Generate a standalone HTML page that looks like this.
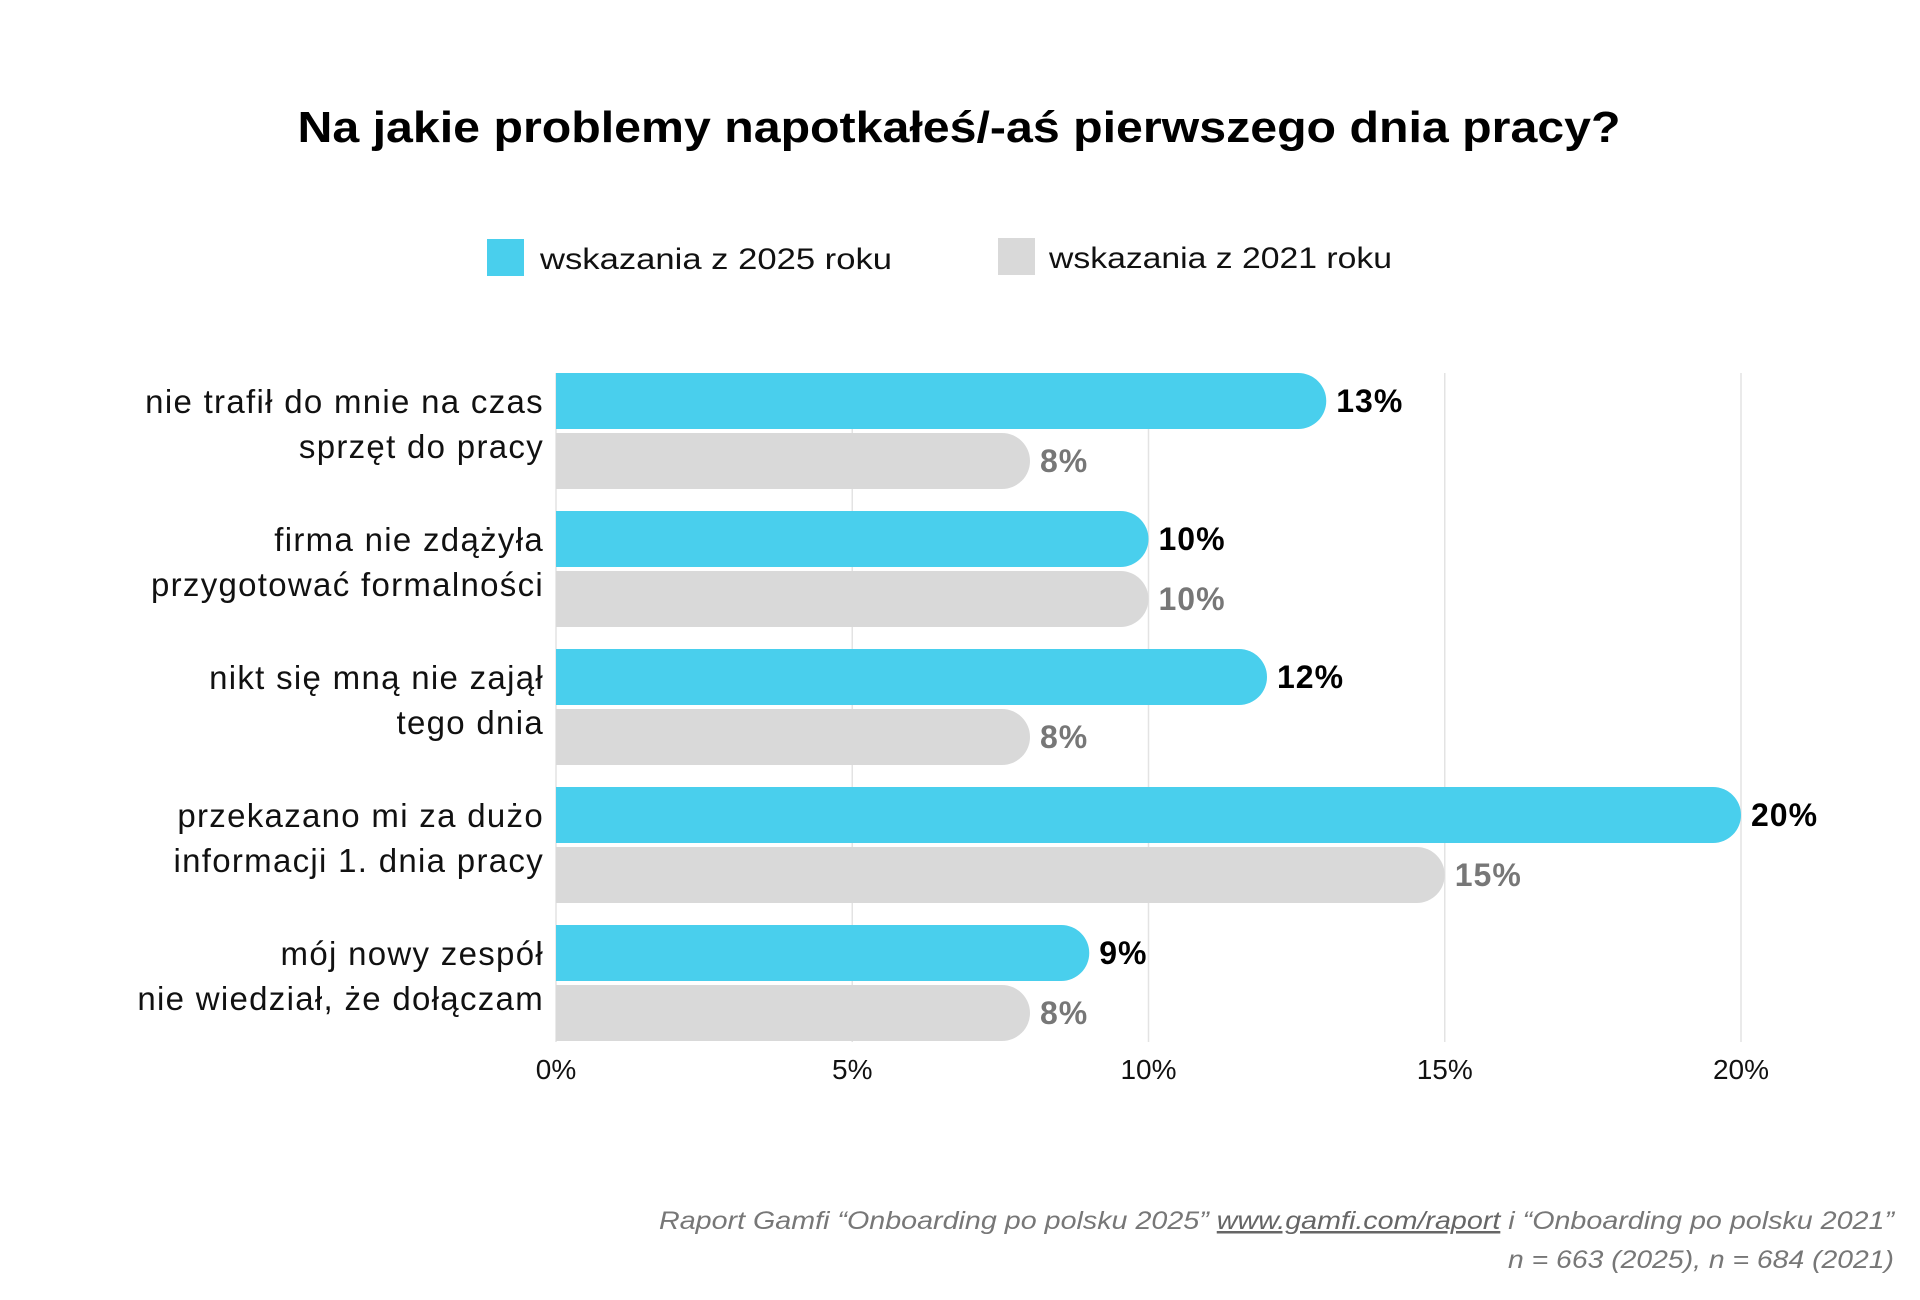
<!DOCTYPE html>
<html><head><meta charset="utf-8"><style>
html,body{margin:0;padding:0;background:#fff}
svg{display:block;font-family:"Liberation Sans",sans-serif}
</style></head><body>
<svg id="chart" width="1920" height="1300" viewBox="0 0 1920 1300">
<text x="959" y="142" text-anchor="middle" font-size="44" font-weight="bold" fill="#000" textLength="1323" lengthAdjust="spacingAndGlyphs">Na jakie problemy napotkałeś/-aś pierwszego dnia pracy?</text>
<g>
<rect x="487" y="239" width="37" height="37" fill="#49cfed"/>
<text x="540" y="269" font-size="30" fill="#111" textLength="352" lengthAdjust="spacingAndGlyphs">wskazania z 2025 roku</text>
<rect x="998" y="238" width="37" height="37" fill="#d9d9d9"/>
<text x="1049" y="268" font-size="30" fill="#111" textLength="343" lengthAdjust="spacingAndGlyphs">wskazania z 2021 roku</text>
</g>
<g id="grid"></g><g id="bars"></g><g id="labels"></g>
<g font-style="italic" font-size="25" fill="#777">
<text x="1894" y="1229" text-anchor="end" textLength="1235" lengthAdjust="spacingAndGlyphs">Raport Gamfi “Onboarding po polsku 2025” <tspan text-decoration="underline" fill="#666">www.gamfi.com/raport</tspan> i “Onboarding po polsku 2021”</text>
<text x="1894" y="1268" text-anchor="end" textLength="386" lengthAdjust="spacingAndGlyphs">n = 663 (2025), n = 684 (2021)</text>
</g>
</svg>
<script>
const categories=[["nie trafił do mnie na czas","sprzęt do pracy"],["firma nie zdążyła","przygotować formalności"],["nikt się mną nie zajął","tego dnia"],["przekazano mi za dużo","informacji 1. dnia pracy"],["mój nowy zespół","nie wiedział, że dołączam"]];
const values2025=[13,10,12,20,9];
const values2021=[8,10,8,15,8];
const ticks=[0,5,10,15,20];
const NS="http://www.w3.org/2000/svg";
function el(t,a,p){const e=document.createElementNS(NS,t);for(const k in a)e.setAttribute(k,a[k]);p.appendChild(e);return e;}
const X0=556,X20=1741;
function xs(v){return X0+(X20-X0)*v/20;}
function gy(i){return 373+i*138;}
const BH=56;
const grid=document.getElementById('grid'),bars=document.getElementById('bars'),labels=document.getElementById('labels');
ticks.forEach(t=>{
 const l=el('line',{x1:xs(t),x2:xs(t),y1:373,y2:1042,stroke:'#e3e3e3','stroke-width':1.5},grid);
 
 
 const tx=el('text',{x:xs(t),y:1079,'text-anchor':'middle','font-size':28,fill:'#111'},grid);
 tx.textContent=t+'%';
 
 
});
function bar(x1,y,h){const w=x1-X0,r=h/2;
 return 'M'+X0+','+y+'H'+(X0+w-r)+'A'+r+','+r+' 0 0 1 '+(X0+w-r)+','+(y+h)+'H'+X0+'Z';}
categories.forEach((c,i)=>{
 const y=gy(i);
 const b1=el('path',{d:bar(xs(values2025[i]),y,BH),fill:'#49cfed'},bars);
 
 
 const b2=el('path',{d:bar(xs(values2021[i]),y+60,BH),fill:'#d9d9d9'},bars);
 
 
 const v1=el('text',{x:xs(values2025[i])+10,y:y+39,'font-size':32,'font-weight':'bold',fill:'#000','letter-spacing':1},labels);
 v1.textContent=values2025[i]+'%';
 
 
 const v2=el('text',{x:xs(values2021[i])+10,y:y+99,'font-size':32,'font-weight':'bold',fill:'#777','letter-spacing':1},labels);
 v2.textContent=values2021[i]+'%';
 
 
 c.forEach((line,j)=>{
  const t=el('text',{x:544,y:y+40+j*45,'text-anchor':'end','font-size':33,fill:'#111','letter-spacing':1.3},labels);
  t.textContent=line;
  
  
 });
});
</script>
</body></html>
